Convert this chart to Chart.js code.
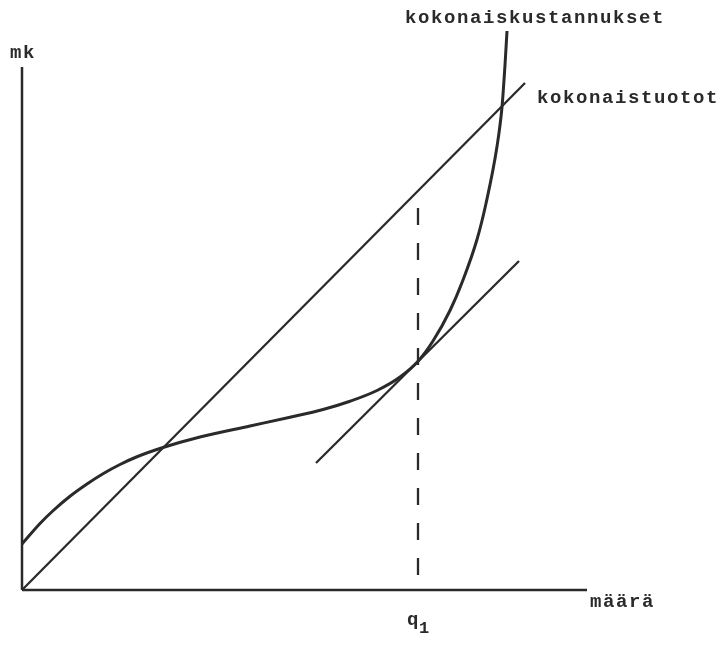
<!DOCTYPE html>
<html><head><meta charset="utf-8">
<script src="https://cdn.jsdelivr.net/npm/chart.js@4/dist/chart.umd.min.js"></script>
<style>html,body{margin:0;padding:0;background:#fff}canvas{display:block}</style>
</head><body>
<canvas id="c" width="726" height="646"></canvas>
<script>
// Total cost curve (kokonaiskustannukset)
const costX = [0, 3.6, 6.2, 9.6, 13, 16.2, 19.6, 23, 28.2, 35.6, 45.6, 53.6, 60.2, 65.6, 71, 75.6, 79.2, 82.2, 85.6, 88.2, 91, 92.8, 95, 96, 96.6, 97];
const costY = [9.2, 13.3, 15.85, 18.75, 21.2, 23.25, 25.1, 26.65, 28.5, 30.6, 32.8, 34.55, 36.1, 37.75, 39.9, 42.6, 45.75, 49.8, 55.9, 62, 70.1, 77.3, 88.7, 96.6, 105, 111.8];
// Total revenue line (kokonaistuotot)
const revenueX = [0, 100.6];
const revenueY = [0, 101.4];
// Tangent line at q1
const tangentX = [58.8, 99.4];
const tangentY = [25.4, 65.8];
// q1 dashed marker
const q1X = [79.2, 79.2];
const q1Y = [3, 77.6];
// Axes
const axisYX = [0, 0];
const axisYY = [0, 104.6];
const axisXX = [0, 113];
const axisXY = [0, 0];

const pts = (xs, ys) => xs.map((x, i) => ({x, y: ys[i]}));
const ink = '#2a2a2a';

const labels = [
  {text: 'kokonaiskustannukset', x: 76.6, y: 114.4},
  {text: 'kokonaistuotot', x: 103, y: 98.4},
  {text: 'mk', x: -2.4, y: 107.4},
  {text: 'määrä', x: 113.6, y: -2.4},
];

const textPlugin = {
  id: 'texts',
  afterDraw(chart) {
    const ctx = chart.ctx, xs = chart.scales.x, ys = chart.scales.y;
    ctx.save();
    ctx.fillStyle = ink;
    ctx.textBaseline = 'middle';
    ctx.textAlign = 'left';
    ctx.font = 'bold 19px "Liberation Mono", "DejaVu Sans Mono", monospace';
    if ('letterSpacing' in ctx) ctx.letterSpacing = '1.6px';
    labels.forEach(l => ctx.fillText(l.text, xs.getPixelForValue(l.x), ys.getPixelForValue(l.y)));
    // q1 label under the dashed line
    const qx = xs.getPixelForValue(q1X[0]) - 11;
    const qy = ys.getPixelForValue(0) + 30;
    ctx.fillText('q', qx, qy);
    ctx.font = 'bold 17px "Liberation Mono", "DejaVu Sans Mono", monospace';
    ctx.fillText('1', qx + 12, qy + 9);
    ctx.restore();
  }
};

const base = {showLine: true, borderColor: ink, pointRadius: 0, clip: false};

new Chart(document.getElementById('c'), {
  type: 'scatter',
  data: {
    datasets: [
      {...base, data: pts(axisYX, axisYY), borderWidth: 2.5},
      {...base, data: pts(axisXX, axisXY), borderWidth: 2.5},
      {...base, data: pts(revenueX, revenueY), borderWidth: 2.3},
      {...base, data: pts(tangentX, tangentY), borderWidth: 2.3},
      {...base, data: pts(q1X, q1Y), borderWidth: 2.3, borderDash: [17, 18]},
      {...base, data: pts(costX, costY), borderWidth: 3, cubicInterpolationMode: 'monotone'},
    ]
  },
  options: {
    responsive: false,
    animation: false,
    layout: {padding: {left: 22, right: 134, top: 20, bottom: 56}},
    plugins: {legend: {display: false}, tooltip: {enabled: false}},
    scales: {
      x: {type: 'linear', display: false, min: 0, max: 114},
      y: {type: 'linear', display: false, min: 0, max: 114}
    },
    elements: {line: {borderCapStyle: 'butt'}}
  },
  plugins: [textPlugin]
});
</script>
</body></html>
